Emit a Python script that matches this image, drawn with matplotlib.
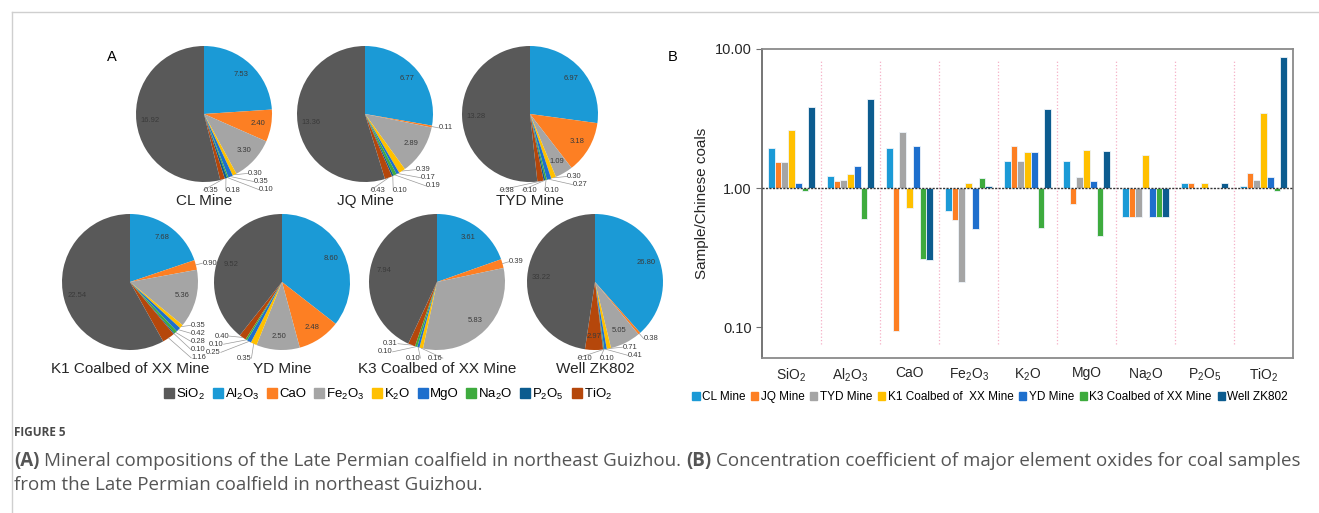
import matplotlib.pyplot as plt
import numpy as np
from matplotlib.patches import Patch
from matplotlib.lines import Line2D
from matplotlib.ticker import NullLocator

plt.rcParams['font.family'] = ['Liberation Sans', 'DejaVu Sans']
plt.rcParams['mathtext.fontset'] = 'custom'
plt.rcParams['mathtext.rm'] = 'Liberation Sans'
plt.rcParams['mathtext.it'] = 'Liberation Sans:italic'
plt.rcParams['mathtext.bf'] = 'Liberation Sans:bold'

W, H = 1319, 513

# --- data -------------------------------------------------------------
oxides = ['SiO2', 'Al2O3', 'CaO', 'Fe2O3', 'K2O', 'MgO', 'Na2O', 'P2O5', 'TiO2']
oxide_labels = ['SiO$_2$', 'Al$_2$O$_3$', 'CaO', 'Fe$_2$O$_3$', 'K$_2$O',
                'MgO', 'Na$_2$O', 'P$_2$O$_5$', 'TiO$_2$']
oxide_colors = ['#595959', '#1b9ad6', '#fd7f23', '#a5a5a5', '#ffc000',
                '#1e6fcd', '#3eab3e', '#0c5c8f', '#b5470b']

# (A) mineral compositions, same order as oxides
cl_mine = [16.92, 7.53, 2.40, 3.30, 0.30, 0.35, 0.10, 0.18, 0.35]
jq_mine = [13.36, 6.77, 0.11, 2.89, 0.39, 0.17, 0.19, 0.10, 0.43]
tyd_mine = [13.28, 6.97, 3.18, 1.09, 0.30, 0.27, 0.10, 0.10, 0.38]
k1_coalbed = [22.54, 7.68, 0.90, 5.36, 0.35, 0.42, 0.28, 0.10, 1.16]
yd_mine = [9.52, 8.60, 2.48, 2.50, 0.35, 0.25, 0.10, 0.00, 0.40]
k3_coalbed = [7.94, 3.61, 0.39, 5.83, 0.16, 0.10, 0.10, 0.00, 0.31]
well_zk802 = [33.22, 26.80, 0.38, 5.05, 0.71, 0.41, 0.10, 0.10, 2.97]

pie_titles = ['CL Mine', 'JQ Mine', 'TYD Mine', 'K1 Coalbed of XX Mine',
              'YD Mine', 'K3 Coalbed of XX Mine', 'Well ZK802']
pie_values = [cl_mine, jq_mine, tyd_mine, k1_coalbed, yd_mine, k3_coalbed, well_zk802]

# (B) concentration coefficients (sample / Chinese coals)
series_labels = ['CL Mine', 'JQ Mine', 'TYD Mine', 'K1 Coalbed of  XX Mine',
                 'YD Mine', 'K3 Coalbed of XX Mine', 'Well ZK802']
series_colors = ['#1b9ad6', '#fd7f23', '#a5a5a5', '#ffc000', '#1e6fcd', '#3eab3e', '#0c5c8f']
cl_ratio = [1.95, 1.23, 1.93, 0.68, 1.56, 1.56, 0.62, 1.09, 1.04]
jq_ratio = [1.55, 1.12, 0.094, 0.59, 2.00, 0.77, 0.62, 1.09, 1.28]
tyd_ratio = [1.54, 1.15, 2.54, 0.21, 1.56, 1.20, 0.62, 1.00, 1.14]
k1_ratio = [2.60, 1.27, 0.72, 1.09, 1.82, 1.89, 1.73, 1.09, 3.45]
yd_ratio = [1.09, 1.44, 2.00, 0.51, 1.82, 1.12, 0.62, 1.00, 1.20]
k3_ratio = [0.95, 0.60, 0.31, 1.19, 0.52, 0.45, 0.62, 1.00, 0.95]
zk_ratio = [3.83, 4.35, 0.305, 1.03, 3.68, 1.85, 0.62, 1.09, 8.75]
ratios = [cl_ratio, jq_ratio, tyd_ratio, k1_ratio, yd_ratio, k3_ratio, zk_ratio]

fig = plt.figure(figsize=(W / 100, H / 100), dpi=100)


def px_axes(x, y, w, h):
    return fig.add_axes([x / W, 1 - (y + h) / H, w / W, h / H])


# frame around the figure panel
fig.add_artist(Line2D([12 / W, 1], [1 - 12 / H, 1 - 12 / H], color='#cfcfcf', lw=1,
                      transform=fig.transFigure))
fig.add_artist(Line2D([12 / W, 12 / W], [0, 1 - 12 / H], color='#cfcfcf', lw=1,
                      transform=fig.transFigure))

# --- (A) pies, all drawn in one pixel-unit axes ---------------------
pie_centers = [(204, 114), (365, 114), (530, 114),
               (130, 282), (282, 282), (437, 282), (595, 282)]
R = 68
pax = fig.add_axes([0, 0, 1, 1])


def put_label(cx, cy, mid, lx, ly, v, ha):
    px, py = cx + R * np.cos(mid), cy + R * np.sin(mid)
    tx, ty = cx + R * lx, cy + R * ly
    pax.plot([px, tx], [py, ty], color='#9a9a9a', lw=0.5, zorder=4)
    pax.text(tx, ty, f'{v:.2f}', ha=ha, va='center', fontsize=5.5,
             color='#3a3a3a', zorder=5)


def draw_pie(cx, cy, values):
    order = list(range(1, 9)) + [0]
    vals = [values[k] for k in order]
    cols = [oxide_colors[k] for k in order]
    wedges, _ = pax.pie(vals, colors=cols, startangle=90, counterclock=False,
                        radius=R, center=(cx, cy))
    total = sum(vals)
    clusters = []
    prev_small = False
    for w, v in zip(wedges, vals):
        if v <= 0:
            continue
        mid = np.deg2rad((w.theta1 + w.theta2) / 2)
        if v / total >= 0.035:
            pax.text(cx + 0.8 * R * np.cos(mid), cy + 0.8 * R * np.sin(mid), f'{v:.2f}',
                     ha='center', va='center', fontsize=5.5, color='#3a3a3a', zorder=5)
            prev_small = False
        else:
            if not prev_small:
                clusters.append([])
            clusters[-1].append((mid, v))
            prev_small = True
    for cl in clusters:
        if len(cl) == 1:
            mid, v = cl[0]
            c = np.cos(mid)
            ha = 'left' if c > 0.2 else ('right' if c < -0.2 else 'center')
            put_label(cx, cy, mid, 1.1 * c, 1.1 * np.sin(mid), v, ha)
            continue
        m = np.mean([c_[0] for c_ in cl])
        right = np.cos(m) >= 0
        seq = cl if right else cl[::-1]
        sgn = 1 if right else -1
        ha = 'left' if right else 'right'
        x_col = np.cos(seq[0][0]) + sgn * 0.2
        x_col = min(x_col, 0.9) if right else max(x_col, -0.9)
        y0 = np.sin(seq[0][0]) + 0.02
        j = 0
        for i, (mid, v) in enumerate(seq):
            yi = y0 - 0.12 * i
            if yi >= -1.13:
                xi = x_col + sgn * 0.08 * i
                xi = min(xi, 0.9) if right else max(xi, -0.9)
                put_label(cx, cy, mid, xi, yi, v, ha)
            else:
                j += 1
                put_label(cx, cy, mid, x_col - sgn * 0.33 * j, -1.12, v, ha)


for (cx, cy), vals, title in zip(pie_centers, pie_values, pie_titles):
    draw_pie(cx, H - cy, vals)
    pax.text(cx, H - cy - 87, title, ha='center', va='center', fontsize=11,
             color='#262626', zorder=5)
pax.set_xlim(0, W)
pax.set_ylim(0, H)
pax.set_aspect('auto')
pax.set_axis_off()

fig.text(112 / W, 1 - 57 / H, 'A', ha='center', va='center', fontsize=10.5)
fig.text(673 / W, 1 - 57 / H, 'B', ha='center', va='center', fontsize=10.5)

fig.legend(handles=[Patch(color=c) for c in oxide_colors], labels=oxide_labels,
           loc='center', bbox_to_anchor=(388 / W, 1 - 394 / H), ncol=9, frameon=False,
           fontsize=9.5, handlelength=0.75, handleheight=0.75, handletextpad=0.15,
           columnspacing=0.6, borderaxespad=0)

# --- (B) bars ---------------------------------------------------------
ax = px_axes(762, 49, 531, 309)
ax.set_yscale('log')
bw = 0.8 / 7
xs = np.arange(len(oxides))
for j, (vals, col) in enumerate(zip(ratios, series_colors)):
    v = np.array(vals)
    ax.bar(xs + (j - 3) * bw, v - 1, bottom=1, width=bw, color=col,
           edgecolor='#eef4fa', linewidth=0.6, zorder=3)
ax.axhline(1, color='#333333', ls=(0, (1.5, 1)), lw=1.0, zorder=4)
for k in range(len(oxides) - 1):
    ax.axvline(k + 0.5, ymin=0.045, ymax=0.964, color='#f5b0c6', ls=':', lw=0.9, zorder=1)
ax.set_ylim(0.06, 10)
ax.set_xlim(-0.5, 8.5)
ax.yaxis.set_minor_locator(NullLocator())
ax.set_yticks([0.1, 1, 10])
ax.set_yticklabels(['0.10', '1.00', '10.00'])
ax.tick_params(axis='y', labelsize=10.5, length=4, color='#707070', labelcolor='#262626')
ax.set_xticks(xs)
ax.set_xticklabels(oxide_labels)
ax.tick_params(axis='x', labelsize=10, length=0, pad=6, labelcolor='#262626')
ax.set_ylabel('Sample/Chinese coals', fontsize=11, labelpad=4, color='#262626')
for name, sp_ in ax.spines.items():
    sp_.set_color('#8a8a8a')
    sp_.set_linewidth(1.3)
ax.spines['left'].set_color('#6a6a6a')

fig.legend(handles=[Patch(color=c) for c in series_colors], labels=series_labels,
           loc='center', bbox_to_anchor=(990 / W, 1 - 397 / H), ncol=7, frameon=False,
           fontsize=8.5, handlelength=0.6, handleheight=0.6, handletextpad=0.2,
           columnspacing=0.5, borderaxespad=0)

# --- caption ----------------------------------------------------------
cap_font = ['Open Sans', 'DejaVu Sans']
fig.text(14 / W, 1 - 433 / H, 'FIGURE 5', fontsize=8.5, fontweight='bold',
         color='#4a4a4a', va='center', family=cap_font)

renderer = fig.canvas.get_renderer()
cap_size = 13.5
gap = 0.26 * cap_size * 100 / 72
line1 = [('(A)', 'bold'),
         ('Mineral compositions of the Late Permian coalfield in northeast Guizhou.', 'normal'),
         ('(B)', 'bold'),
         ('Concentration coefficient of major element oxides for coal samples', 'normal')]
x = 14
for text, weight in line1:
    t = fig.text(x / W, 1 - 461 / H, text, fontsize=cap_size, fontweight=weight,
                 color='#555555', va='center', family=cap_font)
    x += t.get_window_extent(renderer).width + gap
fig.text(14 / W, 1 - 485 / H, 'from the Late Permian coalfield in northeast Guizhou.',
         fontsize=cap_size, color='#555555', va='center', family=cap_font)

fig.savefig('out.png', dpi=100)
